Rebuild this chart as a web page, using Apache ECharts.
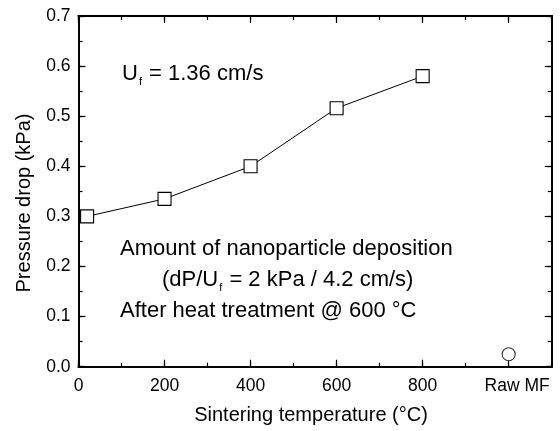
<!DOCTYPE html>
<html>
<head>
<meta charset="utf-8">
<script src="https://cdn.jsdelivr.net/npm/echarts@6/dist/echarts.min.js"></script>
<style>
  html, body { margin: 0; padding: 0; background: #fff; }
  #main { width: 560px; height: 431px; }
</style>
</head>
<body>
<div id="main"></div>
<script>
// sintered filters, pressure drop vs temperature
var temps = [20, 200, 400, 600, 800];
var dropValues = [0.30, 0.335, 0.40, 0.516, 0.58];
var rawX = [1000];
var rawDrop = [0.025];
var xTickValues = [0, 200, 400, 600, 800, 1000];
var xTickLabels = ['0', '200', '400', '600', '800', 'Raw MF'];

var font = 'Liberation Sans, Arial, sans-serif';

var lineData = [];
for (var i = 0; i < temps.length; i++) {
    lineData.push([temps[i], dropValues[i]]);
}
var rawData = [];
for (var j = 0; j < rawX.length; j++) {
    rawData.push([rawX[j], rawDrop[j]]);
}

function xAxisOf(pos, interval, tickLen, labels) {
    return {
        type: 'value', position: pos, min: 0, max: 1100, interval: interval,
        axisLine: { show: true, onZero: false, lineStyle: { color: '#000', width: 1.8 } },
        axisTick: { show: true, inside: true, length: tickLen, lineStyle: { color: '#000', width: 1.2 } },
        axisLabel: {
            show: labels, color: '#000', fontSize: 17.5, fontFamily: font, margin: 10,
            showMaxLabel: false,
            formatter: function (v) {
                var k = xTickValues.indexOf(v);
                if (k < 0) return '';
                // the last label sits a little right of its tick
                return v === 1000 ? '{r|' + xTickLabels[k] + '}' : xTickLabels[k];
            },
            rich: {
                r: { fontSize: 17.5, fontFamily: font, color: '#000', padding: [0, 0, 0, 17] }
            }
        },
        splitLine: { show: false }
    };
}

function yAxisOf(pos, interval, tickLen, labels) {
    return {
        type: 'value', position: pos, min: 0, max: 0.7, interval: interval,
        axisLine: { show: true, onZero: false, lineStyle: { color: '#000', width: 1.8 } },
        axisTick: { show: true, inside: true, length: tickLen, lineStyle: { color: '#000', width: 1.2 } },
        axisLabel: {
            show: labels, color: '#000', fontSize: 17.5, fontFamily: font, margin: 8,
            formatter: function (v) { return v.toFixed(1); }
        },
        splitLine: { show: false }
    };
}

var myChart = echarts.init(document.getElementById('main'), null, { renderer: 'canvas' });

var subStyle = {
    a: { fontSize: 22, fontFamily: font, fill: '#000', verticalAlign: 'top', lineHeight: 24 },
    s: { fontSize: 11, fontFamily: font, fill: '#000', verticalAlign: 'bottom', lineHeight: 11, padding: [22, 1, 0, 1] }
};

var option = {
    animation: false,
    backgroundColor: '#fff',
    grid: { left: 78.5, right: 8.3, top: 16, bottom: 64.3, outerBoundsMode: 'none' },
    xAxis: [
        xAxisOf('bottom', 200, 7, true),
        xAxisOf('bottom', 100, 4, false),
        xAxisOf('top', 200, 7, false),
        xAxisOf('top', 100, 4, false)
    ],
    yAxis: [
        yAxisOf('left', 0.1, 7, true),
        yAxisOf('left', 0.05, 4, false),
        yAxisOf('right', 0.1, 7, false),
        yAxisOf('right', 0.05, 4, false)
    ],
    series: [
        {
            type: 'line',
            data: lineData,
            symbol: 'rect',
            symbolSize: 13,
            itemStyle: { color: '#fff', borderColor: '#000', borderWidth: 1.1 },
            lineStyle: { color: '#000', width: 1 },
            z: 3
        },
        {
            type: 'scatter',
            data: rawData,
            symbol: 'circle',
            symbolSize: 13,
            itemStyle: { color: '#fff', borderColor: '#000', borderWidth: 1.1 },
            z: 3
        }
    ],
    graphic: [
        {
            type: 'text', x: 122, y: 75,
            style: { text: '{a|U}{s|f}{a| = 1.36 cm/s}', verticalAlign: 'middle', rich: subStyle }
        },
        {
            type: 'text', x: 120, y: 249,
            style: { text: 'Amount of nanoparticle deposition', fontSize: 22, fontFamily: font, fill: '#000', verticalAlign: 'middle' }
        },
        {
            type: 'text', x: 162, y: 281,
            style: { text: '{a|(dP/U}{s|f}{a| = 2 kPa / 4.2 cm/s)}', verticalAlign: 'middle', rich: subStyle }
        },
        {
            type: 'text', x: 120, y: 311,
            style: { text: 'After heat treatment @ 600 °C', fontSize: 22, fontFamily: font, fill: '#000', verticalAlign: 'middle' }
        },
        {
            type: 'text', x: 311, y: 415,
            style: { text: 'Sintering temperature (°C)', fontSize: 20, fontFamily: font, fill: '#000', align: 'center', verticalAlign: 'middle' }
        },
        {
            type: 'text', x: 24, y: 203, rotation: Math.PI / 2,
            style: { text: 'Pressure drop (kPa)', fontSize: 20, fontFamily: font, fill: '#000', align: 'center', verticalAlign: 'middle' }
        }
    ]
};

myChart.setOption(option);
</script>
</body>
</html>
